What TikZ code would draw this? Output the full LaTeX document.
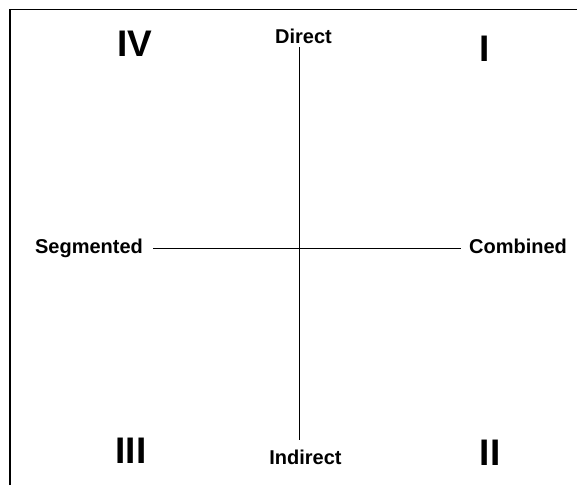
\documentclass[tikz,border=0pt]{standalone}
\usepackage{fontspec}
\setmainfont{Liberation Sans}
\begin{document}
\begin{tikzpicture}[x=1pt,y=-1pt,
  lbl/.style={font=\bfseries\fontsize{20}{24}\selectfont, inner sep=0pt, anchor=base},
  quad/.style={font=\bfseries\fontsize{37}{40}\selectfont, inner sep=0pt, anchor=center},
  axis/.style={line width=0.9pt, black},
  frame/.style={line width=1.6pt, black}]
\useasboundingbox[fill=white] (0,0) rectangle (577,485);
\draw[frame] (10,485) -- (10,9.5) -- (577,9.5);
\node[lbl] (direct) at (303.5,43) {Direct};
\node[lbl] (indirect) at (305.5,464) {Indirect};
\node[lbl] (seg) at (89,253) {Segmented};
\node[lbl] (comb) at (518,253) {Combined};
\coordinate (c) at (299,248);
\draw[axis, shorten <=4pt, shorten >=9.5pt] (direct.south -| c) -- (indirect.north -| c);
\draw[axis, shorten <=10pt, shorten >=8pt] (seg.east |- c) -- (comb.west |- c);
\node[quad] (q4) at (135,43.5) {IV};
\node[quad] (q1) at (484.5,48.5) {I};
\node[quad] (q3) at (131,450.5) {III};
\node[quad] (q2) at (490,452.5) {II};
\end{tikzpicture}
\end{document}
